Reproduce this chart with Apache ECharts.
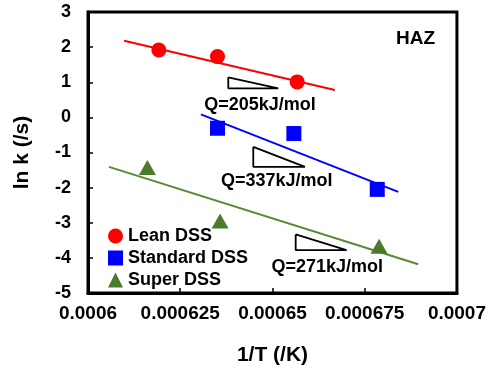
<!DOCTYPE html>
<html>
<head>
<meta charset="utf-8">
<script src="https://cdn.jsdelivr.net/npm/echarts@6/dist/echarts.min.js"></script>
<style>
  html, body { margin: 0; padding: 0; background: #fff; }
  #chart { width: 489px; height: 371px; }
</style>
</head>
<body>
<div id="chart"></div>
<script>
// Arrhenius plot data: x = 1/T (1/K), y = ln k (1/s)
const leanPts = [[0.0006192, 1.92], [0.0006351, 1.73], [0.0006567, 1.01]];
const standardPts = [[0.0006351, -0.31], [0.0006558, -0.46], [0.0006784, -2.05]];
const superPts = [[0.0006161, -1.43], [0.0006358, -2.95], [0.0006789, -3.67]];

// fitted trend lines (end points)
const leanFit = [[0.0006098, 2.18], [0.0006669, 0.78]];
const standardFit = [[0.0006306, 0.085], [0.0006841, -2.12]];
const superFit = [[0.0006057, -1.41], [0.0006895, -4.18]];

// slope triangles with activation energy labels
const slopeTriangles = [
  { x1: 0.00063802, x2: 0.00065157, yTop: 1.14, yBot: 0.826, label: 'Q=205kJ/mol', lx: 0.00064661, ly: 0.36 },
  { x1: 0.00064480, x2: 0.00065881, yTop: -0.838, yBot: -1.407, label: 'Q=337kJ/mol', lx: 0.00065114, ly: -1.80 },
  { x1: 0.00065629, x2: 0.00067008, yTop: -3.333, yBot: -3.781, label: 'Q=271kJ/mol', lx: 0.00066485, ly: -4.25 }
];

const xTickLabels = ['0.0006', '0.000625', '0.00065', '0.000675', '0.0007'];
const yTickLabels = ['-5', '-4', '-3', '-2', '-1', '0', '1', '2', '3'];

const FONT = 'Liberation Sans, Arial, Helvetica, sans-serif';
const RED = '#ff0000', BLUE = '#0000ff', GREEN = '#4c7a2a', GREEN_LINE = '#588a36';

const textLabel = (text, size) => ({
  show: true, position: 'inside', formatter: text, color: '#000',
  fontFamily: FONT, fontWeight: 'bold', fontSize: size
});

const series = [
  { name: 'leanFit', type: 'line', data: leanFit, symbol: 'none', lineStyle: { color: RED, width: 2 }, silent: true, z: 2 },
  { name: 'standardFit', type: 'line', data: standardFit, symbol: 'none', lineStyle: { color: BLUE, width: 2 }, silent: true, z: 2 },
  { name: 'superFit', type: 'line', data: superFit, symbol: 'none', lineStyle: { color: GREEN_LINE, width: 2 }, silent: true, z: 2 },
  { name: 'Lean DSS', type: 'scatter', data: leanPts, symbol: 'circle', symbolSize: 15, itemStyle: { color: RED, opacity: 1 }, z: 3 },
  { name: 'Standard DSS', type: 'scatter', data: standardPts, symbol: 'rect', symbolSize: 15, itemStyle: { color: BLUE, opacity: 1 }, z: 3 },
  { name: 'Super DSS', type: 'scatter', data: superPts, symbol: 'triangle', symbolSize: [17, 15], itemStyle: { color: GREEN, opacity: 1 }, z: 3 }
];

slopeTriangles.forEach((t, i) => {
  series.push({
    name: 'tri' + i, type: 'line', symbol: 'none', silent: true, z: 2,
    data: [[t.x1, t.yTop], [t.x1, t.yBot], [t.x2, t.yBot], [t.x1, t.yTop]],
    lineStyle: { color: '#000', width: 1.8 }
  });
  series.push({
    name: 'q' + i, type: 'scatter', symbolSize: 0, silent: true, z: 4,
    itemStyle: { opacity: 1, color: 'transparent' },
    data: [[t.lx, t.ly]],
    label: textLabel(t.label, 18)
  });
});

series.push({
  name: 'haz', type: 'scatter', symbolSize: 0, silent: true, z: 4,
  itemStyle: { opacity: 1, color: 'transparent' },
  data: [[0.0006888, 2.25]],
  label: textLabel('HAZ', 19)
});

const axisCommon = {
  axisLine: { show: true, onZero: false, lineStyle: { color: '#000', width: 3 } },
  axisTick: { show: true, inside: true, length: 5, lineStyle: { color: '#000', width: 1.5 } },
  splitLine: { show: false }
};

const chart = echarts.init(document.getElementById('chart'));
chart.setOption({
  animation: false,
  backgroundColor: '#fff',
  grid: { left: 88, right: 32, top: 12, bottom: 78, show: true, borderColor: '#000', borderWidth: 3, containLabel: false },
  legend: {
    data: ['Lean DSS', 'Standard DSS', 'Super DSS'],
    orient: 'vertical', left: 103, top: 222, itemGap: 4, itemWidth: 15, itemHeight: 15,
    textStyle: { fontFamily: FONT, fontWeight: 'bold', fontSize: 18, color: '#000', padding: [0, 0, 0, 0] },
    selectedMode: false
  },
  xAxis: Object.assign({
    type: 'value', min: 0.0006, max: 0.0007, interval: 0.000025,
    name: '1/T (/K)', nameLocation: 'middle', nameGap: 52,
    nameTextStyle: { fontFamily: FONT, fontWeight: 'bold', fontSize: 21, color: '#000' },
    axisLabel: {
      margin: 11, color: '#000', fontFamily: FONT, fontWeight: 'bold', fontSize: 19,
      formatter: (v, i) => xTickLabels[i]
    }
  }, axisCommon),
  yAxis: Object.assign({
    type: 'value', min: -5, max: 3, interval: 1,
    name: 'ln k (/s)', nameLocation: 'middle', nameGap: 55, nameRotate: 90,
    nameTextStyle: { fontFamily: FONT, fontWeight: 'bold', fontSize: 21, color: '#000' },
    axisLabel: {
      margin: 17, color: '#000', fontFamily: FONT, fontWeight: 'bold', fontSize: 18,
      formatter: (v, i) => yTickLabels[i]
    }
  }, axisCommon),
  series: series
});
</script>
</body>
</html>
